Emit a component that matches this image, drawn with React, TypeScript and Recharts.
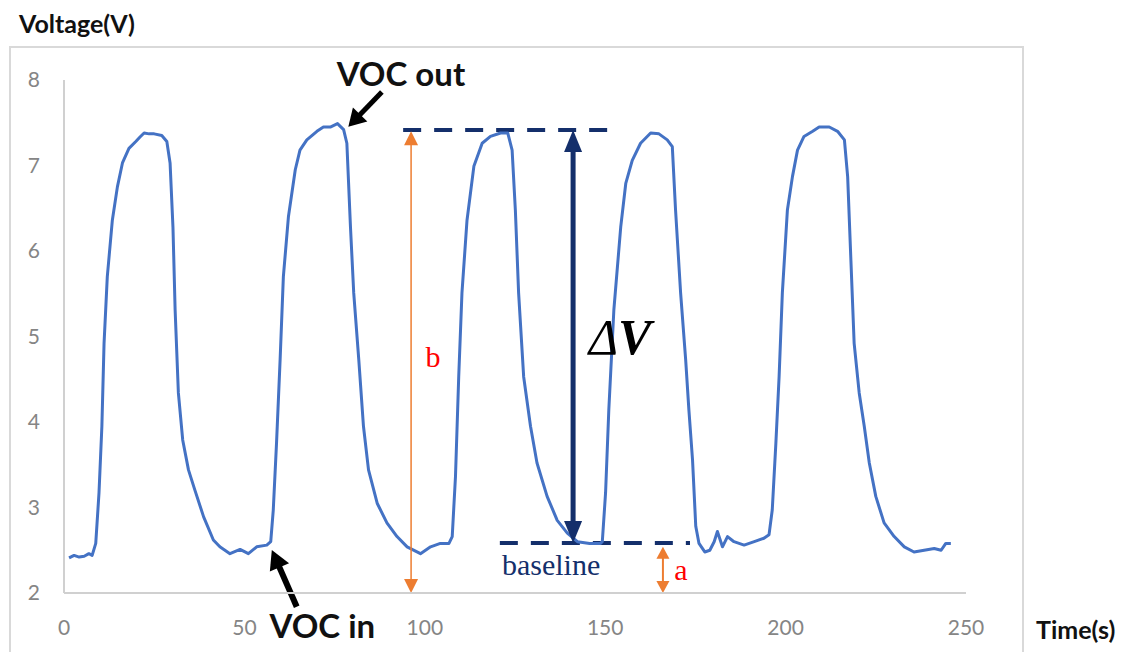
import { LineChart, Line, XAxis, YAxis, ReferenceLine, ReferenceDot } from "recharts";

// sensor trace (time in s, voltage in V)
const TIME = [
  1.4, 2.8, 4.2, 5.6, 6.9, 7.8, 8.8, 9.7, 10.5, 11.1, 12.0, 13.4, 14.8, 16.2, 18.0, 19.9, 21.0, 22.2,
  23.6, 25.0, 27.1, 28.5, 29.4, 30.2, 30.8, 31.7, 32.9, 34.5, 36.3, 38.7, 41.4, 43.2, 46.0, 48.8,
  51.1, 53.4, 56.2, 57.3, 58.0, 58.9, 59.9, 60.8, 62.2, 64.1, 65.4, 67.3, 70.1, 71.9, 73.8, 75.8,
  77.5, 78.4, 79.4, 80.3, 81.7, 83.0, 84.4, 86.8, 89.5, 92.3, 95.1, 98.8, 101.6, 104.3, 106.7,
  107.6, 108.5, 109.4, 110.3, 111.7, 113.6, 115.9, 118.2, 121.0, 123.0, 124.2, 125.1, 126.0,
  127.4, 129.3, 131.1, 133.9, 136.7, 139.5, 142.3, 145.7, 148.7, 149.2, 150.1, 151.0, 152.4,
  154.3, 155.7, 157.5, 159.8, 162.6, 164.9, 167.2, 168.6, 169.5, 170.9, 172.3, 173.2, 174.2,
  175.1, 176.0, 177.6, 179.0, 180.2, 181.1, 182.5, 183.9, 185.7, 188.5, 191.3, 194.0, 195.4,
  196.3, 197.3, 198.2, 199.1, 200.5, 201.9, 203.3, 205.1, 207.5, 209.3, 212.1, 214.4, 216.3,
  217.2, 218.1, 219.0, 220.4, 221.8, 223.2, 225.0, 227.3, 230.1, 232.9, 235.6, 238.4, 241.2,
  243.1, 244.4, 245.8,
];
const VOLT = [
  2.41, 2.44, 2.42, 2.43, 2.46, 2.44, 2.58, 3.17, 3.95, 4.92, 5.70, 6.36, 6.75, 7.03, 7.20, 7.28, 7.33, 7.38,
  7.37, 7.37, 7.35, 7.28, 7.03, 6.28, 5.31, 4.34, 3.79, 3.44, 3.20, 2.89, 2.62, 2.54, 2.46, 2.51,
  2.46, 2.54, 2.56, 2.60, 2.97, 3.75, 4.73, 5.70, 6.40, 6.95, 7.18, 7.30, 7.40, 7.45, 7.45, 7.49,
  7.42, 7.26, 6.28, 5.51, 4.73, 3.95, 3.44, 3.05, 2.82, 2.66, 2.54, 2.46, 2.54, 2.58, 2.58,
  2.66, 3.36, 4.53, 5.51, 6.36, 6.99, 7.26, 7.34, 7.38, 7.38, 7.18, 6.48, 5.51,
  4.53, 3.95, 3.52, 3.13, 2.85, 2.70, 2.60, 2.58, 2.58, 2.60, 3.17, 4.14, 5.31,
  6.28, 6.79, 7.06, 7.26, 7.38, 7.37, 7.30, 7.22, 6.48, 5.51, 4.73, 4.14, 3.56,
  2.78, 2.58, 2.48, 2.50, 2.60, 2.72, 2.54, 2.66, 2.60, 2.56, 2.60, 2.64, 2.68,
  2.97, 3.75, 4.53, 5.51, 6.48, 6.87, 7.18, 7.34, 7.40, 7.45, 7.45, 7.40, 7.30,
  6.87, 5.89, 4.92, 4.34, 3.95, 3.52, 3.13, 2.82, 2.66, 2.54, 2.48, 2.50, 2.52,
  2.50, 2.58, 2.58,
];
const X_TICKS = [0, 50, 100, 150, 200, 250];
const Y_TICKS = [2, 3, 4, 5, 6, 7, 8];

const PEAK_LEVEL = 7.415;
const BASE_LEVEL = 2.585;

const data = TIME.map((t, i) => ({ t, v: VOLT[i] }));

const NAVY = "#142f6b";
const ORANGE = "#ed7d31";
const LABEL_FONT = "Lato, 'Open Sans', sans-serif";
const SERIF = "'Liberation Serif', 'DejaVu Serif', serif";

type ArrowOpts = { color: string; width: number; head: number; headW: number; both?: boolean };

// line with a triangular head at the end point (and optionally at the start)
function arrowShape({ color, width, head, headW, both }: ArrowOpts) {
  return (p: any) => {
    const { x1, y1, x2, y2 } = p;
    const len = Math.hypot(x2 - x1, y2 - y1) || 1;
    const ux = (x2 - x1) / len;
    const uy = (y2 - y1) / len;
    const nx = (-uy * headW) / 2;
    const ny = (ux * headW) / 2;
    const tri = (tx: number, ty: number, dx: number, dy: number) => {
      const bx = tx - dx * head;
      const by = ty - dy * head;
      return `${tx},${ty} ${bx + nx},${by + ny} ${bx - nx},${by - ny}`;
    };
    const cut = head * 0.9;
    return (
      <g>
        <line
          x1={both ? x1 + ux * cut : x1}
          y1={both ? y1 + uy * cut : y1}
          x2={x2 - ux * cut}
          y2={y2 - uy * cut}
          stroke={color}
          strokeWidth={width}
        />
        <polygon points={tri(x2, y2, ux, uy)} fill={color} />
        {both && <polygon points={tri(x1, y1, -ux, -uy)} fill={color} />}
      </g>
    );
  };
}

function textShape(text: React.ReactNode, style: Record<string, any>) {
  return (p: any) => (
    <text x={p.cx} y={p.cy} textAnchor="middle" dominantBaseline="central" {...style}>
      {text}
    </text>
  );
}

export default function App() {
  return (
    <div
      style={{
        position: "fixed",
        left: 0,
        top: 0,
        width: 1131,
        height: 652,
        overflow: "hidden",
        background: "#fff",
      }}
    >
      {/* frame around the plot */}
      <div
        style={{
          position: "absolute",
          left: 9,
          top: 46,
          width: 1015,
          height: 700,
          border: "2px solid #d9d9d9",
          boxSizing: "border-box",
        }}
      />
      <div
        style={{
          position: "absolute",
          left: 19,
          top: 8,
          fontFamily: LABEL_FONT,
          fontWeight: 700,
          fontSize: 25,
          color: "#111",
        }}
      >
        Voltage(V)
      </div>
      <div
        style={{
          position: "absolute",
          left: 1036,
          top: 614,
          fontFamily: LABEL_FONT,
          fontWeight: 700,
          fontSize: 25,
          color: "#111",
        }}
      >
        Time(s)
      </div>

      <div style={{ position: "absolute", left: 0, top: 0 }}>
        <LineChart width={1131} height={652} data={data} margin={{ top: 80, right: 165, left: 0, bottom: 0 }}>
          <XAxis
            dataKey="t"
            type="number"
            domain={[0, 250]}
            ticks={X_TICKS}
            height={59}
            tickLine={false}
            tickMargin={21}
            axisLine={{ stroke: "#d0d0d0", strokeWidth: 2 }}
            tick={{ fill: "#858585", fontSize: 21, fontFamily: LABEL_FONT }}
          />
          <YAxis
            type="number"
            domain={[2, 8]}
            ticks={Y_TICKS}
            width={64}
            tickLine={false}
            tickMargin={18}
            axisLine={{ stroke: "#d0d0d0", strokeWidth: 2 }}
            tick={{ fill: "#858585", fontSize: 21, fontFamily: LABEL_FONT }}
          />

          {/* peak and baseline guides */}
          <ReferenceLine
            segment={[{ x: 94.0, y: PEAK_LEVEL }, { x: 150.8, y: PEAK_LEVEL }]}
            stroke={NAVY}
            strokeWidth={4}
            strokeDasharray="18 13"
            ifOverflow="visible"
          />
          <ReferenceLine
            segment={[{ x: 120.8, y: BASE_LEVEL }, { x: 173.5, y: BASE_LEVEL }]}
            stroke={NAVY}
            strokeWidth={4}
            strokeDasharray="18 13"
            ifOverflow="visible"
          />

          <Line
            type="linear"
            dataKey="v"
            stroke="#4472c4"
            strokeWidth={3}
            strokeLinejoin="round"
            dot={false}
            isAnimationActive={false}
          />

          {/* ΔV */}
          <ReferenceLine
            segment={[{ x: 141.1, y: BASE_LEVEL }, { x: 141.1, y: PEAK_LEVEL }]}
            ifOverflow="visible"
            shape={arrowShape({ color: NAVY, width: 5, head: 22, headW: 18, both: true })}
          />
          {/* b */}
          <ReferenceLine
            segment={[{ x: 96.2, y: 2.0 }, { x: 96.2, y: 7.4 }]}
            ifOverflow="visible"
            shape={arrowShape({ color: ORANGE, width: 1.5, head: 14, headW: 14, both: true })}
          />
          {/* a */}
          <ReferenceLine
            segment={[{ x: 166.0, y: 2.0 }, { x: 166.0, y: 2.54 }]}
            ifOverflow="visible"
            shape={arrowShape({ color: ORANGE, width: 2, head: 12, headW: 13, both: true })}
          />
          {/* VOC out / VOC in pointers */}
          <ReferenceLine
            segment={[{ x: 88.1, y: 7.86 }, { x: 78.8, y: 7.454 }]}
            ifOverflow="visible"
            shape={arrowShape({ color: "#000", width: 5, head: 17, headW: 20 })}
          />
          <ReferenceLine
            segment={[{ x: 64.5, y: 1.84 }, { x: 57.6, y: 2.503 }]}
            ifOverflow="visible"
            shape={arrowShape({ color: "#000", width: 6, head: 19, headW: 21 })}
          />

          <ReferenceDot
            x={93.4}
            y={8.08}
            r={0}
            ifOverflow="visible"
            shape={textShape("VOC out", { fontFamily: LABEL_FONT, fontWeight: 700, fontSize: 33, fill: "#111" })}
          />
          <ReferenceDot
            x={71.6}
            y={1.62}
            r={0}
            ifOverflow="visible"
            shape={textShape("VOC in", { fontFamily: LABEL_FONT, fontWeight: 700, fontSize: 33, fill: "#111" })}
          />
          <ReferenceDot
            x={154.1}
            y={4.994}
            r={0}
            ifOverflow="visible"
            shape={textShape(
              <>
                <tspan fontStyle="italic">Δ</tspan>
                <tspan fontStyle="italic" fontWeight={700}>V</tspan>
              </>,
              { fontFamily: SERIF, fontSize: 50, fill: "#000" }
            )}
          />
          <ReferenceDot
            x={102.3}
            y={4.77}
            r={0}
            ifOverflow="visible"
            shape={textShape("b", { fontFamily: SERIF, fontSize: 30, fill: "#ff0000" })}
          />
          <ReferenceDot
            x={171.0}
            y={2.27}
            r={0}
            ifOverflow="visible"
            shape={textShape("a", { fontFamily: SERIF, fontSize: 30, fill: "#ff0000" })}
          />
          <ReferenceDot
            x={135.0}
            y={2.33}
            r={0}
            ifOverflow="visible"
            shape={textShape("baseline", { fontFamily: SERIF, fontSize: 30, fill: NAVY })}
          />
        </LineChart>
      </div>
    </div>
  );
}
